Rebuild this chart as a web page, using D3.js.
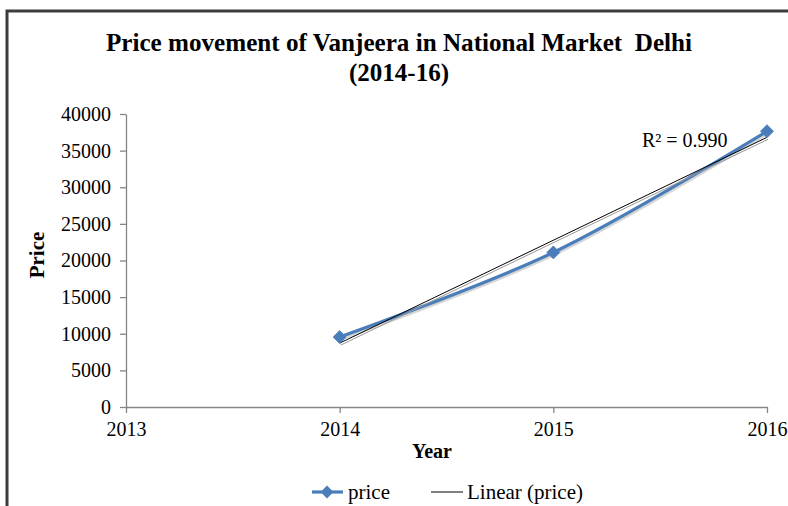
<!DOCTYPE html>
<html><head><meta charset="utf-8">
<script src="https://cdn.jsdelivr.net/npm/d3@7"></script>
<style>body{margin:0;background:#fff}svg{display:block}text{white-space:pre}</style>
</head><body>
<svg id="chart" width="788" height="506"></svg>
<script>
const years = [2014, 2015, 2016];
const prices = [9550, 21100, 37650];
const xTickValues = [2013, 2014, 2015, 2016];
const yTickValues = [0, 5000, 10000, 15000, 20000, 25000, 30000, 35000, 40000];
const titleLines = ["Price movement of Vanjeera in National Market  Delhi", "(2014-16)"];
const xAxisTitle = "Year";
const yAxisTitle = "Price";
const r2Text = "R\u00B2 = 0.990";
const legendLabels = ["price", "Linear (price)"];

const serif = "'Liberation Serif','Times New Roman',serif";
const blue = "#4A7EBB";
const axisColor = "#868686";
const svg = d3.select("#chart");

// frame
svg.append("path").attr("d", "M7,506 V11 H788").attr("fill", "none")
  .attr("stroke", "#3c3c3c").attr("stroke-width", 3);

const x = d3.scaleLinear().domain([2013, 2016]).range([126, 767]);
const y = d3.scaleLinear().domain([0, 40000]).range([407, 114]);

// title
svg.selectAll("text.title").data(titleLines).enter().append("text")
  .attr("class", "title")
  .attr("x", 399).attr("y", (d, i) => 51 + i * 30)
  .attr("text-anchor", "middle")
  .style("font-family", serif).style("font-weight", "bold").style("font-size", "25px")
  .attr("fill", "#000").text(d => d)
  .each(function(d, i){ if (i === 0) { d3.select(this).attr("textLength", 586).attr("lengthAdjust", "spacingAndGlyphs"); } });

// axes
const yAxis = svg.append("g").attr("transform", "translate(126,0)")
  .call(d3.axisLeft(y).tickValues(yTickValues).tickSize(6).tickSizeOuter(0).tickPadding(9).tickFormat(d3.format("d")));
const xAxis = svg.append("g").attr("transform", "translate(0,407)")
  .call(d3.axisBottom(x).tickValues(xTickValues).tickSize(6).tickSizeOuter(0).tickPadding(9).tickFormat(d3.format("d")));
[yAxis, xAxis].forEach(g => {
  g.select(".domain").attr("stroke", axisColor).attr("stroke-width", 1.3);
  g.selectAll(".tick line").attr("stroke", axisColor).attr("stroke-width", 1.3);
  g.selectAll(".tick text").style("font-family", serif).style("font-size", "20px").attr("fill", "#000");
});

// axis titles
svg.append("text").attr("x", 432).attr("y", 458).attr("text-anchor", "middle")
  .style("font-family", serif).style("font-weight", "bold").style("font-size", "20px").text(xAxisTitle);
svg.append("text").attr("transform", "translate(44,255) rotate(-90)").attr("text-anchor", "middle")
  .style("font-family", serif).style("font-weight", "bold").style("font-size", "21px").text(yAxisTitle);

// linear trend (least squares from data)
const mx = d3.mean(years), my = d3.mean(prices);
const slope = d3.sum(years, (v, i) => (v - mx) * (prices[i] - my)) / d3.sum(years, v => (v - mx) ** 2);
const icpt = my - slope * mx;
const trendPts = [years[0], years[years.length - 1]].map(v => [v, icpt + slope * v]);

const data = years.map((v, i) => [v, prices[i]]);
const smooth = d3.line().x(d => x(d[0])).y(d => y(d[1])).curve(d3.curveCatmullRom.alpha(0.5));
const straight = d3.line().x(d => x(d[0])).y(d => y(d[1]));

// shadows
svg.append("path").datum(data).attr("d", smooth).attr("fill", "none")
  .attr("stroke", "#bbb").attr("stroke-width", 3).attr("transform", "translate(1,2)").attr("opacity", 0.6);
svg.append("path").datum(data).attr("d", smooth).attr("fill", "none")
  .attr("stroke", blue).attr("stroke-width", 3.2);
svg.append("path").datum(trendPts).attr("d", straight).attr("fill", "none")
  .attr("stroke", "#999").attr("stroke-width", 1).attr("transform", "translate(1,2)");
svg.append("path").datum(trendPts).attr("d", straight).attr("fill", "none")
  .attr("stroke", "#000").attr("stroke-width", 1);

const diamond = d3.symbol().type(d3.symbolDiamond2).size(105);
svg.selectAll("path.pt").data(data).enter().append("path").attr("class", "pt")
  .attr("transform", d => `translate(${x(d[0])},${y(d[1])})`)
  .attr("d", diamond).attr("fill", blue).attr("stroke", blue).attr("stroke-width", 1);

// R^2 label
svg.append("text").attr("x", 642).attr("y", 147)
  .style("font-family", serif).style("font-size", "20px").text(r2Text);

// legend
const lg = svg.append("g");
lg.append("line").attr("x1", 312).attr("x2", 343).attr("y1", 492).attr("y2", 492)
  .attr("stroke", blue).attr("stroke-width", 3.2);
lg.append("path").attr("transform", "translate(327,492)").attr("d", diamond).attr("fill", blue);
lg.append("text").attr("x", 348).attr("y", 499).style("font-family", serif).style("font-size", "21px").text(legendLabels[0]);
lg.append("line").attr("x1", 431).attr("x2", 463).attr("y1", 492).attr("y2", 492)
  .attr("stroke", "#000").attr("stroke-width", 1);
lg.append("text").attr("x", 467).attr("y", 499).style("font-family", serif).style("font-size", "21px").text(legendLabels[1]);
</script>
</body></html>
